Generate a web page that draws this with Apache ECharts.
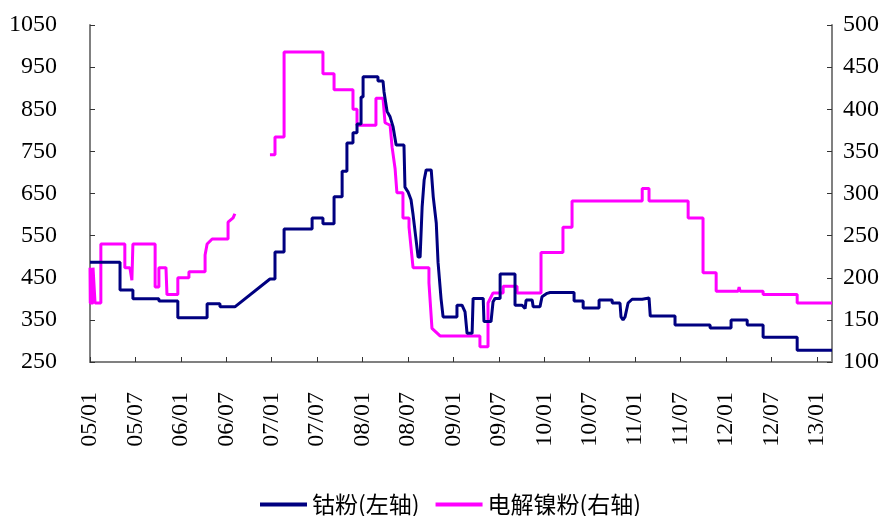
<!DOCTYPE html>
<html>
<head>
<meta charset="utf-8">
<script src="https://cdn.jsdelivr.net/npm/echarts@6/dist/echarts.min.js"></script>
<style>
  html, body { margin: 0; padding: 0; background: #fff; }
  #chart { width: 889px; height: 516px; }
</style>
</head>
<body>
<div id="chart"></div>
<script>
// x 轴刻度标签（每半年一个）
const xTickLabels = ['05/01', '05/07', '06/01', '06/07', '07/01', '07/07', '08/01', '08/07', '09/01',
  '09/07', '10/01', '10/07', '11/01', '11/07', '12/01', '12/07', '13/01'];
const leftTicks = [250, 350, 450, 550, 650, 750, 850, 950, 1050];

// 钴粉（左轴），拐点读自原图
const cobaltDates = ['2005-01-01', '2005-04-30', '2005-04-30', '2005-06-21', '2005-06-21', '2005-10-04', '2005-10-04',
  '2005-12-19', '2005-12-19', '2006-04-15', '2006-04-15', '2006-06-06', '2006-06-06', '2006-08-05', '2006-12-24',
  '2007-01-14', '2007-01-14', '2007-02-20', '2007-02-20', '2007-06-11', '2007-06-11', '2007-07-24', '2007-07-24',
  '2007-09-08', '2007-09-08', '2007-10-10', '2007-10-10', '2007-10-29', '2007-10-29', '2007-11-23', '2007-11-23',
  '2007-12-09', '2007-12-09', '2007-12-25', '2007-12-25', '2008-01-03', '2008-01-03', '2008-03-02', '2008-03-02',
  '2008-03-22', '2008-03-26', '2008-04-08', '2008-04-20', '2008-05-02', '2008-05-14', '2008-06-15', '2008-06-19',
  '2008-07-01', '2008-07-13', '2008-07-21', '2008-08-03', '2008-08-11', '2008-08-19', '2008-08-27', '2008-09-05',
  '2008-09-13', '2008-10-03', '2008-10-11', '2008-10-23', '2008-10-30', '2008-11-12', '2008-11-20', '2009-01-15',
  '2009-01-15', '2009-02-05', '2009-02-17', '2009-02-25', '2009-03-15', '2009-03-19', '2009-04-29', '2009-05-02',
  '2009-05-30', '2009-06-08', '2009-06-16', '2009-07-06', '2009-07-06', '2009-09-05', '2009-09-05', '2009-10-03',
  '2009-10-15', '2009-10-19', '2009-11-13', '2009-11-17', '2009-12-14', '2009-12-22', '2010-01-12', '2010-01-24',
  '2010-04-29', '2010-04-29', '2010-06-05', '2010-06-05', '2010-08-08', '2010-08-08', '2010-09-30', '2010-09-30',
  '2010-11-01', '2010-11-05', '2010-11-13', '2010-11-21', '2010-12-03', '2010-12-19', '2011-01-29', '2011-02-02',
  '2011-02-26', '2011-03-01', '2011-06-09', '2011-06-09', '2011-10-28', '2011-10-28', '2012-01-21', '2012-01-21',
  '2012-03-25', '2012-03-25', '2012-05-28', '2012-05-28', '2012-10-13', '2012-10-13', '2013-03-01'];
const cobaltValues = [487, 487, 421, 421, 400, 400, 395,
  395, 355, 355, 388, 388, 381, 381, 447,
  447, 511, 511, 566, 566, 592, 592, 578,
  578, 642, 642, 703, 703, 770, 770, 794,
  794, 815, 815, 879, 879, 927, 927, 917,
  917, 891, 845, 832, 808, 765, 765, 665,
  654, 635, 600, 540, 499, 499, 618, 682,
  706, 706, 642, 580, 487, 400, 357, 357,
  385, 385, 369, 318, 318, 401, 401, 346,
  346, 393, 401, 401, 459, 459, 385, 385,
  377, 397, 397, 381, 381, 405, 413, 415,
  415, 395, 395, 378, 378, 397, 397, 390,
  390, 357, 350, 357, 390, 399, 399, 402,
  402, 359, 359, 338, 338, 331, 331, 350,
  350, 338, 338, 309, 309, 278, 278];

// 电解镍粉（右轴），null 为缺数断点
const nickelDates = ['2005-01-01', '2005-01-02', '2005-01-13', '2005-01-13', '2005-01-17', '2005-01-21', '2005-02-14',
  '2005-02-14', '2005-05-19', '2005-05-19', '2005-06-09', '2005-06-17', '2005-06-21', '2005-06-21', '2005-09-19',
  '2005-09-19', '2005-10-04', '2005-10-04', '2005-11-02', '2005-11-06', '2005-12-19', '2005-12-19', '2006-02-03',
  '2006-02-03', '2006-04-07', '2006-04-07', '2006-04-15', '2006-05-05', '2006-07-08', '2006-07-08', '2006-07-28',
  '2006-08-05', '2006-10-01', '2006-12-24', '2007-01-14', '2007-01-14', '2007-02-20', '2007-02-20', '2007-07-24',
  '2007-07-24', '2007-09-08', '2007-09-08', '2007-11-23', '2007-11-23', '2007-12-09', '2007-12-09', '2008-02-24',
  '2008-02-24', '2008-03-22', '2008-03-30', '2008-04-20', '2008-04-28', '2008-05-10', '2008-05-17', '2008-06-11',
  '2008-06-11', '2008-07-05', '2008-07-05', '2008-07-21', '2008-09-24', '2008-09-24', '2008-10-06', '2008-11-08',
  '2009-04-16', '2009-04-16', '2009-05-18', '2009-05-18', '2009-06-08', '2009-07-18', '2009-07-18', '2009-09-13',
  '2009-09-13', '2009-12-18', '2009-12-18', '2010-03-15', '2010-03-15', '2010-04-21', '2010-04-21', '2011-01-29',
  '2011-01-29', '2011-02-26', '2011-02-26', '2011-08-01', '2011-08-01', '2011-09-30', '2011-09-30', '2011-11-22',
  '2011-11-22', '2012-02-19', '2012-02-23', '2012-02-27', '2012-05-28', '2012-05-28', '2012-10-13', '2012-10-13',
  '2013-03-01'];
const nickelValues = [212, 170, 170, 212, 212, 170, 170,
  240, 240, 212, 212, 197, 197, 240, 240,
  189, 189, 212, 212, 180, 180, 200, 200,
  207, 207, 227, 240, 246, 246, 266, 271,
  276, null, 346, 346, 367, 367, 468, 468,
  442, 442, 423, 423, 400, 400, 381, 381,
  413, 413, 384, 381, 355, 329, 301, 301,
  271, 271, 260, 212, 212, 194, 140, 131,
  131, 118, 118, 170, 182, 182, 190, 190,
  182, 182, 230, 230, 260, 260, 291, 291,
  306, 306, 291, 291, 271, 271, 206, 206,
  184, 184, 189, 184, 184, 180, 180, 170,
  170];

// 日期 -> 距 2005-01 的月数
const toMonth = d => {
  const [y, m, day] = d.split('-').map(Number);
  return (y - 2005) * 12 + (m - 1) + (day - 1) / 30;
};
const labelToMonth = s => {
  const [yy, mm] = s.split('/').map(Number);
  return (yy - 5) * 12 + (mm - 1);
};
const xTickValues = xTickLabels.map(labelToMonth);

const axisGray = '#808080';
const serif = 'Liberation Serif';

const chart = echarts.init(document.getElementById('chart'));
chart.setOption({
  animation: false,
  grid: { left: 90, right: 57, top: 25, bottom: 154 },
  legend: {
    left: 255, top: 488,
    icon: 'rect', itemWidth: 47, itemHeight: 4, itemGap: 16,
    textStyle: { fontFamily: 'Noto Sans CJK SC', fontSize: 23, color: '#000' },
    data: ['钴粉(左轴)', '电解镍粉(右轴)'],
  },
  xAxis: {
    type: 'value', min: 0, max: 98,
    splitLine: { show: false },
    axisLine: { lineStyle: { color: axisGray, width: 2 } },
    axisTick: { inside: true, length: 5, customValues: xTickValues, lineStyle: { color: '#333' } },
    axisLabel: {
      customValues: xTickValues, rotate: 90, margin: 30,
      fontFamily: serif, fontSize: 24, color: '#000',
      formatter: v => xTickLabels[xTickValues.indexOf(v)] || '',
    },
  },
  yAxis: [
    {
      type: 'value', min: 250, max: 1050, interval: 50,
      splitLine: { show: false },
      axisLine: { show: true, lineStyle: { color: axisGray, width: 2 } },
      axisTick: { show: true, inside: true, length: 5, customValues: leftTicks, lineStyle: { color: '#333' } },
      axisLabel: {
        customValues: leftTicks, margin: 33, fontFamily: serif, fontSize: 24, color: '#000',
        formatter: v => String(v),
      },
    },
    {
      type: 'value', min: 100, max: 500, interval: 50, position: 'right',
      splitLine: { show: false },
      axisLine: { show: true, lineStyle: { color: axisGray, width: 2 } },
      axisTick: { show: true, inside: true, length: 5, lineStyle: { color: '#333' } },
      axisLabel: { margin: 11, fontFamily: serif, fontSize: 24, color: '#000', formatter: v => String(v) },
    },
  ],
  series: [
    {
      name: '钴粉(左轴)', type: 'line', yAxisIndex: 0,
      data: cobaltDates.map((d, i) => [toMonth(d), cobaltValues[i]]),
      symbol: 'none', lineStyle: { width: 3, color: '#000080' }, itemStyle: { color: '#000080' },
      z: 3,
    },
    {
      name: '电解镍粉(右轴)', type: 'line', yAxisIndex: 1,
      data: nickelDates.map((d, i) => [toMonth(d), nickelValues[i] == null ? '-' : nickelValues[i]]),
      symbol: 'none', connectNulls: false,
      lineStyle: { width: 3, color: '#FF00FF' }, itemStyle: { color: '#FF00FF' },
      z: 2,
    },
  ],
});
</script>
</body>
</html>
